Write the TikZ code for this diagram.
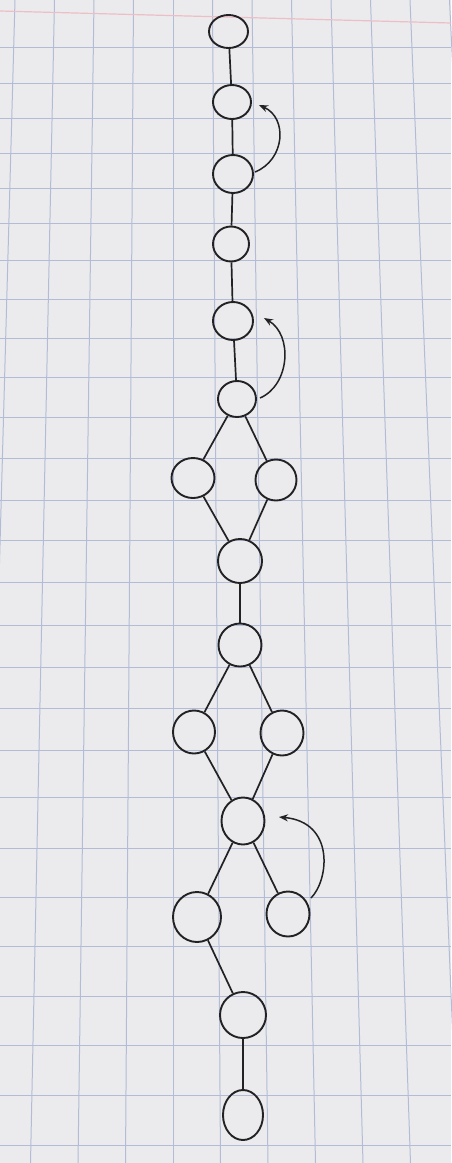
\documentclass[tikz,border=0pt]{standalone}
\usetikzlibrary{shapes.geometric,arrows.meta}
\definecolor{paper}{RGB}{235,235,237}
\definecolor{gridc}{RGB}{178,188,214}
\definecolor{pinkc}{RGB}{236,190,198}
\definecolor{pen}{RGB}{34,34,36}
\tikzset{
  vtx/.style={ellipse,draw=pen,line width=1.9pt,inner sep=0pt,minimum width=40pt,minimum height=38pt},
  edge/.style={draw=pen,line width=1.7pt},
  curvearr/.style={draw=pen,line width=1.5pt,-{Stealth[length=9pt,width=7pt]}},
  gridl/.style={draw=gridc,line width=1pt},
  pinkl/.style={draw=pinkc,line width=1.2pt}
}
\begin{document}
\begin{tikzpicture}[x=1pt,y=-1pt]
\fill[paper] (0,0) rectangle (451,1163);
\useasboundingbox (0,0) rectangle (451,1163);
% grid
\foreach \k in {-4,...,7}
  \draw[gridl] ({173+\k*39.5},0) -- ({173+\k*47.5},1163);
\foreach \yy in {47,83,118,153,188,223,260,299,338,377,417,458,500,540,582,625,667,708,750,797,848,897,946,996,1045,1095,1145}
  \draw[gridl] (0,\yy) -- (451,\yy);
\draw[pinkl] (0,11) -- (451,23);
% nodes
\node[vtx,minimum width=39pt,minimum height=33pt] (n1) at (228.5,31.5) {};
\node[vtx,minimum width=38pt,minimum height=34pt] (n2) at (232,102) {};
\node[vtx,minimum width=40pt,minimum height=38pt] (n3) at (233,174) {};
\node[vtx,minimum width=36pt,minimum height=35pt] (n4) at (231,244) {};
\node[vtx,minimum width=40pt,minimum height=38pt] (n5) at (233,321) {};
\node[vtx,minimum width=38pt,minimum height=36pt] (n6) at (237,399) {};
\node[vtx,minimum width=43pt,minimum height=40pt] (n7l) at (193,478) {};
\node[vtx,minimum width=41pt,minimum height=41pt] (n7r) at (276,480) {};
\node[vtx,minimum width=44pt,minimum height=44pt] (n8) at (240,561) {};
\node[vtx,minimum width=43pt,minimum height=43pt] (n9) at (240,645) {};
\node[vtx,minimum width=42pt,minimum height=43pt] (n10l) at (194,732) {};
\node[vtx,minimum width=43pt,minimum height=45pt] (n10r) at (282,733) {};
\node[vtx,minimum width=43pt,minimum height=47pt] (n11) at (243,821) {};
\node[vtx,minimum width=48pt,minimum height=50pt] (n12l) at (197,917) {};
\node[vtx,minimum width=43pt,minimum height=45pt] (n12r) at (288,914) {};
\node[vtx,minimum width=46pt,minimum height=46pt] (n13) at (243,1015) {};
\node[vtx,minimum width=40pt,minimum height=50pt] (n14) at (243,1115) {};
% edges
\draw[edge] (n1) -- (n2);
\draw[edge] (n2) -- (n3);
\draw[edge] (n3) -- (n4);
\draw[edge] (n4) -- (n5);
\draw[edge] (n5) -- (n6);
\draw[edge] (n6) -- (n7l);
\draw[edge] (n6) -- (n7r);
\draw[edge] (n7l) -- (n8);
\draw[edge] (n7r) -- (n8);
\draw[edge] (n8) -- (n9);
\draw[edge] (n9) -- (n10l);
\draw[edge] (n9) -- (n10r);
\draw[edge] (n10l) -- (n11);
\draw[edge] (n10r) -- (n11);
\draw[edge] (n11) -- (n12l);
\draw[edge] (n11) -- (n12r);
\draw[edge] (n12l) -- (n13);
\draw[edge] (n13) -- (n14);
% curved arrows
\coordinate (t1) at (259,105);
\coordinate (t2) at (264,318);
\coordinate (t3) at (279,817);
\coordinate (s1) at (255,172);
\coordinate (s2) at (260,398);
\coordinate (s3) at (311,898);
\draw[curvearr] (s1) .. controls (285,160) and (288,118) .. (t1);
\draw[curvearr] (s2) .. controls (290,385) and (293,335) .. (t2);
\draw[curvearr] (s3) .. controls (329,880) and (335,822) .. (t3);
\end{tikzpicture}
\end{document}
